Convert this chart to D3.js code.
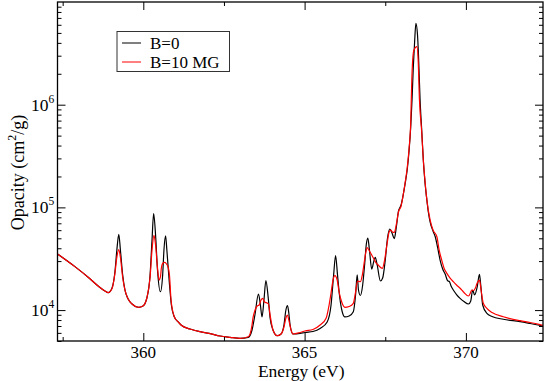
<!DOCTYPE html>
<html><head><meta charset="utf-8">
<script src="https://cdn.jsdelivr.net/npm/d3@7"></script>
<style>
html,body{margin:0;padding:0;background:#fff;}
svg{display:block;font-family:"Liberation Serif","Times New Roman",serif;}
</style></head>
<body><svg id="c" width="545" height="381"></svg>
<script>
const energyB0 = [357.34,357.88,358.29,358.60,358.81,358.91,359.03,359.12,359.18,359.24,359.29,359.36,359.43,359.53,359.65,359.85,359.99,360.11,360.21,360.27,360.32,360.38,360.44,360.53,360.60,360.64,360.69,360.73,360.80,360.87,360.96,361.08,361.17,361.45,361.76,362.04,362.38,362.69,363.00,363.25,363.37,363.46,363.57,363.63,363.68,363.74,363.80,363.87,363.93,364.02,364.15,364.27,364.36,364.42,364.47,364.51,364.55,364.64,364.86,365.01,365.26,365.48,365.70,365.82,365.90,365.96,366.02,366.08,366.16,366.25,366.38,366.51,366.58,366.63,366.67,366.73,366.80,366.86,366.91,366.96,367.01,367.08,367.14,367.19,367.25,367.35,367.42,367.50,367.57,367.64,367.71,367.78,367.84,367.91,367.99,368.05,368.12,368.18,368.24,368.29,368.33,368.37,368.41,368.45,368.50,368.53,368.58,368.63,368.68,368.73,368.79,368.84,368.89,368.98,369.05,369.12,369.20,369.28,369.36,369.43,369.49,369.54,369.61,369.71,369.82,369.94,370.08,370.15,370.21,370.27,370.35,370.42,370.46,370.52,370.65,370.81,371.16,371.68,371.99,372.39];
const opacityB0 = [35200,26500,20900,17160,15350,14770,16410,23500,38500,54700,38500,22000,15700,12800,11460,10640,10960,13110,22000,48100,86800,53800,24600,15100,22000,38500,52700,38500,19600,11200,8620,7660,7160,6540,6160,5940,5590,5430,5310,5410,6400,8960,14340,11210,8570,12540,19400,13410,8380,6400,5630,5850,7160,10020,11080,9370,7160,5850,5920,6050,6190,6620,7660,11210,22000,34000,22000,14030,9800,8570,8760,9640,14030,22000,15690,13870,17550,27500,43000,50300,38500,25100,29400,32700,27500,19200,20500,30700,50300,61600,56300,49600,63000,92200,105500,129000,173000,231000,362000,610000,1110000,2340000,4080000,6200000,4770000,3050000,1110000,567000,289000,177000,118000,88200,72100,58900,51800,41200,30700,25100,22300,19400,18900,17160,15690,14180,13020,12120,11460,12260,15690,14030,16780,22300,17550,11210,9300,8660,8140,7710,7400,7000];
const energyB10 = [357.34,357.88,358.29,358.60,358.81,358.91,359.03,359.12,359.18,359.24,359.29,359.36,359.43,359.53,359.65,359.85,359.99,360.11,360.21,360.27,360.33,360.38,360.44,360.49,360.53,360.56,360.61,360.66,360.72,360.78,360.81,360.86,360.96,361.08,361.17,361.45,361.76,362.04,362.38,362.69,363.00,363.25,363.31,363.37,363.40,363.46,363.53,363.59,363.65,363.70,363.76,363.84,363.88,363.93,364.02,364.15,364.27,364.36,364.42,364.47,364.51,364.58,364.64,364.86,365.01,365.26,365.48,365.67,365.76,365.82,365.88,365.94,366.01,366.07,366.15,366.25,366.38,366.51,366.58,366.64,366.73,366.79,366.85,366.90,366.94,367.01,367.08,367.15,367.22,367.28,367.35,367.41,367.48,367.56,367.62,367.67,367.72,367.78,367.84,367.91,367.99,368.05,368.12,368.18,368.24,368.29,368.32,368.35,368.39,368.48,368.52,368.56,368.63,368.68,368.73,368.79,368.89,368.98,369.10,369.17,369.25,369.32,369.41,369.51,369.61,369.71,369.82,369.94,370.08,370.14,370.18,370.24,370.29,370.35,370.42,370.47,370.54,370.65,370.81,371.16,371.68,371.99,372.39];
const opacityB10 = [35200,26500,20900,17160,15350,14770,16200,22800,32700,38900,32700,20900,15700,12800,11460,10640,10960,13110,20900,38500,53500,43000,25700,19600,20900,25700,28700,29100,28100,25500,22000,12540,8620,7660,7160,6540,6160,5940,5590,5430,5310,5500,5850,7160,8380,9910,10960,11210,12540,13020,11990,11720,11460,8960,6400,5630,5850,6840,8380,8960,8010,6400,5850,6050,6260,6470,7160,8380,11210,14670,19600,21700,19600,15000,11990,10640,10840,11640,15000,19200,18900,22000,29400,36800,40700,37600,34400,31400,28700,27500,26100,25500,30700,45000,57600,60200,57600,57000,67400,90200,103000,129000,177000,242000,379000,678000,1620000,2720000,3410000,3670000,2720000,1110000,542000,289000,185000,118000,75400,60200,51800,38500,30700,25700,22800,20500,18900,17550,16300,14830,13720,14670,15690,15510,16300,18350,19600,15690,11640,10410,9470,8620,7880,7570,7110];
const xDomain = [357.34, 372.39];
const yDomain = [5000, 1e7];
const xMajorTicks = [360, 365, 370];
const xMinorTicks = [357.5, 362.5, 367.5, 372.5];
const yMajorTicks = [1e4, 1e5, 1e6];
const yTickExponents = ["4", "5", "6"];
const seriesNames = ["B=0", "B=10 MG"];
const seriesColors = ["#000000", "#ff0000"];

(function () {
const svg = d3.select("#c");
const L = 57.5, R = 543, T = 2, B = 341;
const x = d3.scaleLinear().domain(xDomain).range([L, R]);
const y = d3.scaleLog().domain(yDomain).range([B, T]);

const yMinor = [];
for (let d = 3; d <= 6; d++) for (let m = 1; m <= 9; m++) {
  const v = m * Math.pow(10, d);
  if (m !== 1 && v >= yDomain[0] && v <= yDomain[1]) yMinor.push(v);
}

svg.append("clipPath").attr("id", "pc").append("rect")
  .attr("x", L).attr("y", T).attr("width", R - L).attr("height", B - T);

const line = d3.line().x(d => x(d[0])).y(d => y(d[1])).curve(d3.curveMonotoneX);
const dB0 = energyB0.map((e, i) => [e, opacityB0[i]]);
const dB10 = energyB10.map((e, i) => [e, opacityB10[i]]);
const g = svg.append("g").attr("clip-path", "url(#pc)");
g.append("path").datum(dB0).attr("d", line).attr("fill", "none").attr("stroke", seriesColors[0]).attr("stroke-width", 1.2);
g.append("path").datum(dB10).attr("d", line).attr("fill", "none").attr("stroke", seriesColors[1]).attr("stroke-width", 1.2);

const maj = 8, mnr = 4;
const axes = [
  [d3.axisBottom(x).tickValues(xMajorTicks).tickSize(-maj), `translate(0,${B})`],
  [d3.axisBottom(x).tickValues(xMinorTicks).tickSize(-mnr), `translate(0,${B})`],
  [d3.axisTop(x).tickValues(xMajorTicks).tickSize(-maj), `translate(0,${T})`],
  [d3.axisTop(x).tickValues(xMinorTicks).tickSize(-mnr), `translate(0,${T})`],
  [d3.axisLeft(y).tickValues(yMajorTicks).tickSize(-maj), `translate(${L},0)`],
  [d3.axisLeft(y).tickValues(yMinor).tickSize(-mnr), `translate(${L},0)`],
  [d3.axisRight(y).tickValues(yMajorTicks).tickSize(-maj), `translate(${R},0)`],
  [d3.axisRight(y).tickValues(yMinor).tickSize(-mnr), `translate(${R},0)`]
];
axes.forEach(([a, t]) => {
  const gg = svg.append("g").attr("transform", t).call(a.tickFormat(""));
  gg.select(".domain").remove();
  gg.selectAll("line").attr("stroke", "#000").attr("stroke-width", 1);
});
svg.append("rect").attr("x", L).attr("y", T).attr("width", R - L).attr("height", B - T)
  .attr("fill", "none").attr("stroke", "#000").attr("stroke-width", 1.3);

svg.append("g").selectAll("text").data(xMajorTicks).join("text")
  .attr("x", d => x(d)).attr("y", 357.5).attr("text-anchor", "middle")
  .attr("font-size", 17).text(d => d3.format("d")(d));
const yl = svg.append("g").selectAll("text").data(yMajorTicks).join("text")
  .attr("x", 31).attr("y", d => y(d) + 6).attr("font-size", 17.5);
yl.append("tspan").text("10");
yl.append("tspan").attr("font-size", 11.5).attr("dy", -8).text((d, i) => yTickExponents[i]);

svg.append("text").attr("x", (L + R) / 2 + 1).attr("y", 377).attr("text-anchor", "middle")
  .attr("font-size", 17.5).text("Energy (eV)");
const yt = svg.append("text").attr("transform", `translate(24,${(T + B) / 2 + 1}) rotate(-90)`)
  .attr("text-anchor", "middle").attr("font-size", 18);
yt.append("tspan").text("Opacity (cm");
yt.append("tspan").attr("font-size", 12).attr("dy", -8).text("2");
yt.append("tspan").attr("dy", 8).text("/g)");

const lg = svg.append("g");
lg.append("rect").attr("x", 117).attr("y", 31.5).attr("width", 112.5).attr("height", 40)
  .attr("fill", "#fff").attr("stroke", "#333").attr("stroke-width", 1);
seriesNames.forEach((n, i) => {
  const yy = 43 + i * 19;
  lg.append("line").attr("x1", 122).attr("x2", 141).attr("y1", yy).attr("y2", yy)
    .attr("stroke", seriesColors[i]).attr("stroke-width", 1);
  lg.append("text").attr("x", 150).attr("y", yy + 5.5).attr("font-size", 17).text(n);
});
})();
</script></body></html>
